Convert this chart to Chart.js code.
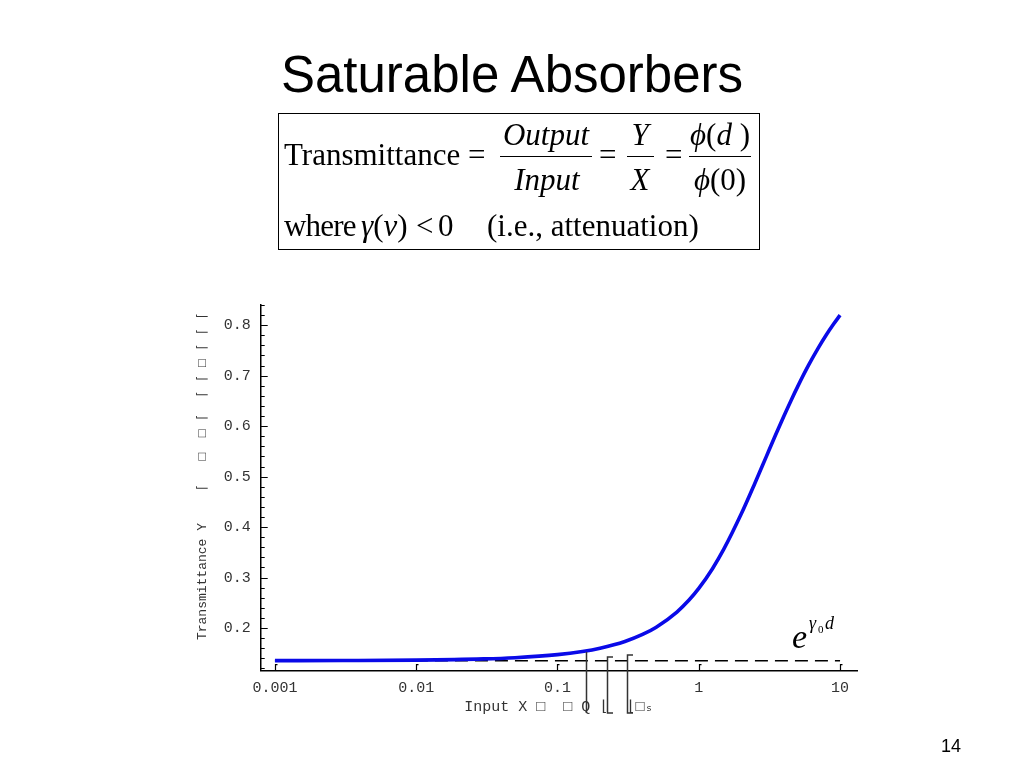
<!DOCTYPE html>
<html><head><meta charset="utf-8">
<script src="https://cdn.jsdelivr.net/npm/chart.js@4.4.0/dist/chart.umd.min.js"></script>
<style>
html,body{margin:0;padding:0;background:#fff;width:1024px;height:768px;overflow:hidden;position:relative;}
#c{position:absolute;left:0;top:0;}
.t{position:absolute;white-space:nowrap;line-height:1;}
.serif{font-family:'Liberation Serif','Times New Roman',serif;font-size:31px;color:#000;}
.ctr{text-align:center;}
.bar{position:absolute;height:0;border-top:1.5px solid #000;}
#box{position:absolute;left:278px;top:113px;width:482px;height:137px;border:1px solid #000;box-sizing:border-box;}
#title{position:absolute;left:0;width:1024px;top:49px;text-align:center;font-family:'Liberation Sans',Arial,sans-serif;font-size:51px;line-height:1;color:#000;}
#page{position:absolute;left:941px;top:737px;font-family:'Liberation Sans',Arial,sans-serif;font-size:18px;line-height:1;}
</style></head>
<body>
<canvas id="c" width="1024" height="768"></canvas>
<div id="title">Saturable Absorbers</div>
<div id="box"></div>
<div class="t serif" style="left:284px;top:139px;">Transmittance =</div>
<div class="t serif ctr" style="left:496px;width:100px;top:119px;"><i>Output</i></div>
<div class="bar" style="left:500px;width:92px;top:156px;"></div>
<div class="t serif ctr" style="left:497px;width:100px;top:164px;"><i>Input</i></div>
<div class="t serif" style="left:599px;top:139px;">=</div>
<div class="t serif ctr" style="left:620px;width:40px;top:119px;"><i>Y</i></div>
<div class="bar" style="left:627px;width:27px;top:156px;"></div>
<div class="t serif ctr" style="left:620px;width:40px;top:164px;"><i>X</i></div>
<div class="t serif" style="left:665px;top:139px;">=</div>
<div class="t serif ctr" style="left:680px;width:80px;top:119px;"><i>ϕ</i>(<i>d</i> )</div>
<div class="bar" style="left:689px;width:62px;top:156px;"></div>
<div class="t serif ctr" style="left:680px;width:80px;top:164px;"><i>ϕ</i>(0)</div>
<div class="t serif" style="left:284px;top:210px;letter-spacing:-0.8px;">where</div>
<div class="t serif" style="left:361px;top:210px;"><i>γ</i>(<i>ν</i>)</div>
<div class="t serif" style="left:416px;top:210px;">&lt;</div>
<div class="t serif" style="left:438px;top:210px;">0</div>
<div class="t serif" style="left:487px;top:210px;">(i.e., attenuation)</div>
<div class="t serif" style="left:792px;top:620px;font-size:34px;"><i>e</i></div>
<div class="t serif" style="left:809px;top:614px;font-size:18px;"><i>γ</i></div>
<div class="t serif" style="left:818px;top:624px;font-size:11px;">0</div>
<div class="t serif" style="left:825px;top:614px;font-size:18px;"><i>d</i></div>
<div id="page">14</div>
<script>
// ---- data ----
const xValues = [0.001, 0.003, 0.01, 0.03, 0.05, 0.1, 0.15, 0.2, 0.3, 0.4, 0.5, 0.7, 0.85, 1, 1.25, 1.5, 2, 2.5, 3, 3.5, 4, 4.5, 5, 6, 7, 8, 9, 10];
const transmittance = [0.1354, 0.1357, 0.1365, 0.1389, 0.1413, 0.1473, 0.1536, 0.1601, 0.1734, 0.1873, 0.2017, 0.2317, 0.2549, 0.2785, 0.3176, 0.3557, 0.4263, 0.4874, 0.5392, 0.5828, 0.6196, 0.6510, 0.6778, 0.7212, 0.7545, 0.7809, 0.8022, 0.8199];
const limitX = [0.001, 10];
const limitT = [0.1353, 0.1353];
const xTickValues = [0.001, 0.01, 0.1, 1, 10];
const xTickLabels = ['0.001', '0.01', '0.1', '1', '10'];
const yTickValues = [0.2, 0.3, 0.4, 0.5, 0.6, 0.7, 0.8];
const yTickLabels = ['0.2', '0.3', '0.4', '0.5', '0.6', '0.7', '0.8'];
const xAxisTitle = 'Input X \u25A1  \u25A1 Q \u230A  \u230A\u25A1\u209B';
const yAxisTitle = '   Transmittance Y    \u2308   \u25A1  \u25A1 \u2308  \u2308 \u2308 \u25A1 \u2308 \u2308 \u2308';

const curvePts = xValues.map((x, i) => ({x: x, y: transmittance[i]}));
const limitPts = limitX.map((x, i) => ({x: x, y: limitT[i]}));
const mono = "'Liberation Mono','DejaVu Sans Mono',monospace";

const decor = {
  id: 'decor',
  afterDraw(chart) {
    const ctx = chart.ctx, xs = chart.scales.x, ys = chart.scales.y, a = chart.chartArea;
    ctx.save();
    ctx.strokeStyle = '#000';
    ctx.lineWidth = 1.2;
    ctx.beginPath();
    for (let k = 6; k <= 42; k++) {
      const y = Math.round(ys.getPixelForValue(k * 0.02)) + 0.5;
      const len = (k % 5 === 0) ? 7 : 4;
      ctx.moveTo(a.left, y); ctx.lineTo(a.left + len, y);
    }
    xTickValues.forEach(v => {
      const x = Math.round(xs.getPixelForValue(v)) + 0.5;
      ctx.moveTo(x, a.bottom); ctx.lineTo(x, a.bottom - 6);
      ctx.lineTo(x + 2, a.bottom - 6);
    });
    ctx.stroke();
    // stray bracket glyph strokes near the axis title
    ctx.strokeStyle = '#333';
    ctx.lineWidth = 1.5;
    ctx.beginPath();
    ctx.moveTo(586.5, 652); ctx.lineTo(586.5, 713);
    ctx.moveTo(613, 657); ctx.lineTo(607.5, 657); ctx.lineTo(607.5, 713); ctx.lineTo(613, 713);
    ctx.moveTo(633, 655); ctx.lineTo(627.5, 655); ctx.lineTo(627.5, 713); ctx.lineTo(633, 713);
    ctx.stroke();
    ctx.restore();
  }
};

new Chart(document.getElementById('c'), {
  type: 'line',
  data: {
    datasets: [
      {data: curvePts, borderColor: '#0a0ae8', borderWidth: 3.6, pointRadius: 0, cubicInterpolationMode: 'monotone', fill: false},
      {data: limitPts, borderColor: '#000', borderWidth: 1.5, borderDash: [13, 7], pointRadius: 0, fill: false}
    ]
  },
  options: {
    responsive: false,
    animation: false,
    devicePixelRatio: 1,
    layout: {padding: {left: 180, right: 167, top: 305, bottom: 37.3}},
    plugins: {legend: {display: false}, tooltip: {enabled: false}},
    scales: {
      x: {
        type: 'logarithmic',
        min: 0.000793, max: 13.18,
        afterFit: s => { s.height = 60; },
        afterBuildTicks: s => { s.ticks = xTickValues.map(v => ({value: v})); },
        grid: {display: false, drawTicks: false},
        border: {display: true, color: '#000', width: 1.5},
        ticks: {autoSkip: false, maxRotation: 0, padding: 8, color: '#333', font: {family: mono, size: 15},
          callback: (v, i) => xTickLabels[i]},
        title: {display: true, text: xAxisTitle, color: '#333', font: {family: mono, size: 15}, padding: {top: 0, bottom: 14.7}}
      },
      y: {
        type: 'linear',
        min: 0.1155, max: 0.84,
        afterFit: s => { s.width = 80.7; },
        afterBuildTicks: s => { s.ticks = yTickValues.map(v => ({value: v})); },
        grid: {display: false, drawTicks: false},
        border: {display: true, color: '#000', width: 1.5},
        ticks: {autoSkip: false, padding: 10, color: '#333', font: {family: mono, size: 15},
          callback: (v, i) => yTickLabels[i]},
        title: {display: true, text: yAxisTitle, color: '#333', font: {family: mono, size: 13}, padding: {top: 15, bottom: 0}}
      }
    }
  },
  plugins: [decor]
});
</script>
</body></html>
